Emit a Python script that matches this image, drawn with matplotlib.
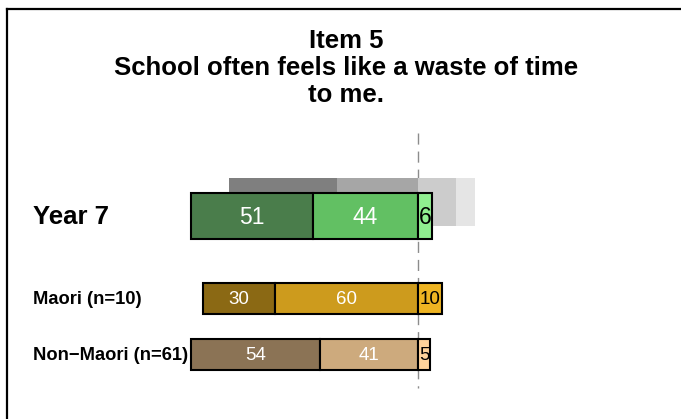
import matplotlib
matplotlib.use("Agg")
import matplotlib.pyplot as plt
from matplotlib.lines import Line2D

plt.rcParams['font.family'] = ['Liberation Sans', 'DejaVu Sans']

# data (percentages)
title = "Item 5\nSchool often feels like a waste of time\nto me."
year_label = "Year 7"
year_left = [51, 44]          # strongly disagree, disagree (left of centre)
year_right = [6]              # agree (right of centre)
year_colors = ["#4a7d4b", "#62c063", "#90ee90"]

# grey comparison bar behind Year 7
ref_left = [45, 34]
ref_right = [16, 8]
ref_colors = ["#7f7f7f", "#a6a6a6", "#cccccc", "#e5e5e5"]

group_labels = ["Maori (n=10)", "Non\u2212Maori (n=61)"]
group_left = [[30, 60], [54, 41]]
group_right = [[10], [5]]
group_colors = [["#8b6914", "#cd9b1d", "#eeb422"],
                ["#8b7355", "#cdaa7d", "#ffd39b"]]

W, H = 681, 419
fig = plt.figure(figsize=(W / 100, H / 100), dpi=100)
ax = fig.add_axes([0, 0, 1, 1])
scale = 2.39
cx = 418
ax.set_xlim(-cx / scale, (W - cx) / scale)
ax.set_ylim(H, 0)
ax.axis("off")


def draw_row(y, h, left, right, colors, fs, edge=True, text=True):
    # left segments end at zero, listed from outermost to innermost
    start = -sum(left)
    vals = list(left) + list(right)
    for i, v in enumerate(vals):
        kw = dict(edgecolor="black", linewidth=1.5) if edge else dict(linewidth=0)
        ax.barh(y, v, left=start, height=h, color=colors[i], **kw)
        if text:
            col = "white" if i < len(left) else "black"
            ax.text(start + v / 2, y + 1, str(v), ha="center", va="center",
                    color=col, fontsize=fs)
        start += v


# grey reference bar (drawn first, behind)
draw_row(202, 48, ref_left, ref_right, ref_colors, 15, edge=False, text=False)
draw_row(216, 46, year_left, year_right, year_colors, 16.5)
ax.text(33 / scale - cx / scale, 217, year_label, ha="left", va="center",
        fontsize=18.5, fontweight="bold")

ys = [298.5, 354.5]
for y, lab, lv, rv, cols in zip(ys, group_labels, group_left, group_right, group_colors):
    draw_row(y, 31, lv, rv, cols, 13.5)
    ax.text(33 / scale - cx / scale, y + 1, lab, ha="left", va="center",
            fontsize=13.2, fontweight="bold")

# centre reference line
ax.plot([0, 0], [133, 388], color="#8c8c8c", linewidth=1.0,
        linestyle=(0, (8, 5)), zorder=0)

ax.text((346 - cx) / scale, 68, title, ha="center", va="center",
        fontsize=18.5, fontweight="bold", linespacing=1.15)

# outer frame (cropped on right and bottom)
fig.add_artist(Line2D([6.5 / W, 6.5 / W], [0, 1 - 9.5 / H], color="black",
                      linewidth=1.6, transform=fig.transFigure))
fig.add_artist(Line2D([6.5 / W, 1], [1 - 9.5 / H, 1 - 9.5 / H], color="black",
                      linewidth=1.6, transform=fig.transFigure))

fig.savefig("out.png", dpi=100)
